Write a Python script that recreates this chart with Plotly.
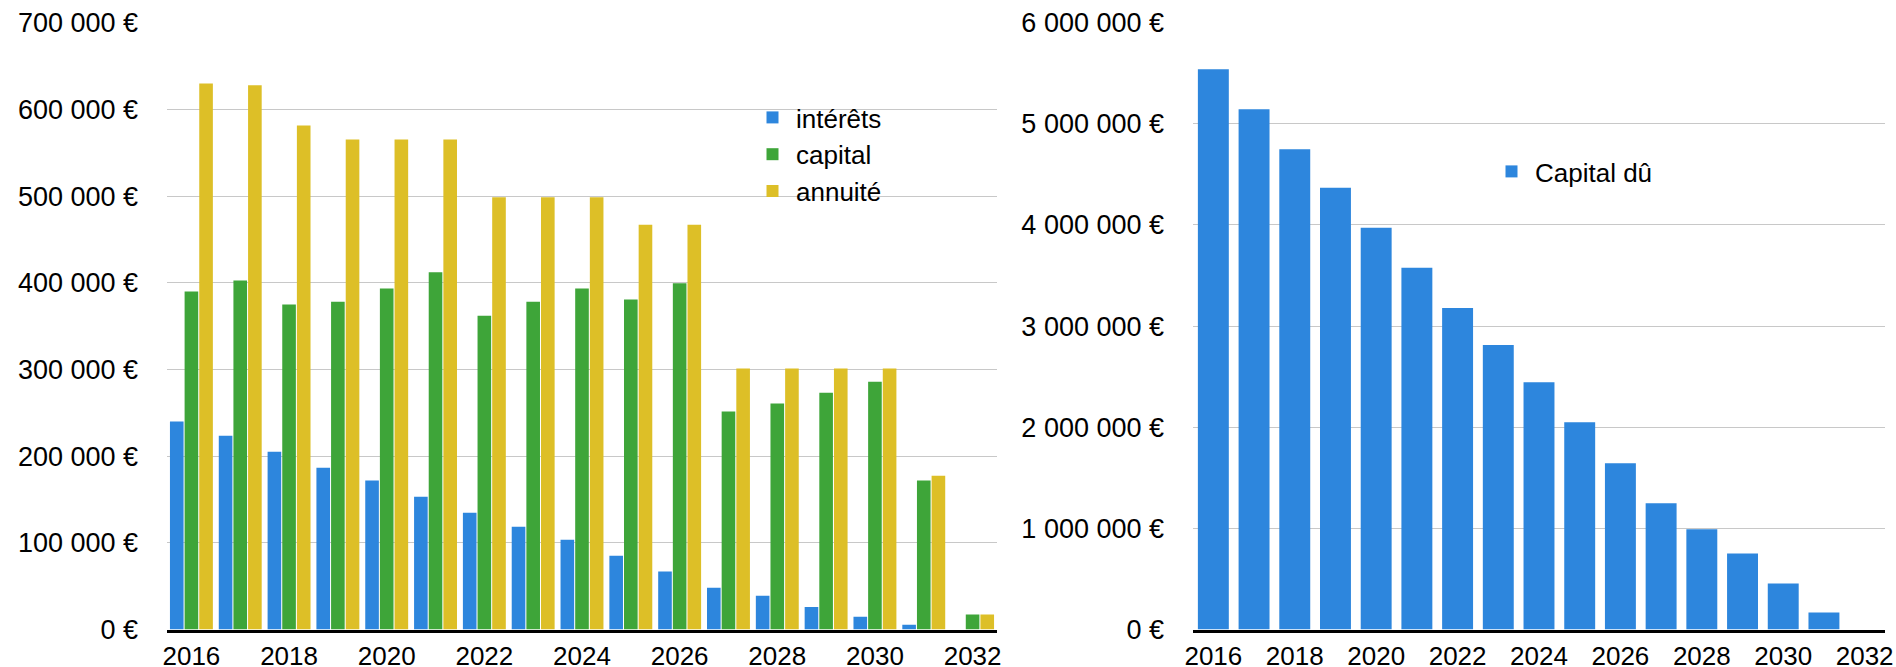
import plotly.graph_objects as go

years = list(range(2016, 2033))
interets = [240000, 223500, 205000, 186600, 172000, 153200, 134600, 118400, 103600,
            85000, 66800, 48100, 38800, 26000, 14700, 5400, 0]
capital = [390000, 402700, 374800, 378200, 393400, 412000, 362000, 378200, 393400,
           380600, 399300, 251500, 260800, 273000, 285900, 171900, 17200]
annuite = [630000, 627700, 581500, 565300, 565300, 565300, 498500, 498500, 498500,
           467000, 467000, 301000, 301000, 301000, 301000, 177300, 17200]
capital_du = [5540000, 5144000, 4748000, 4368000, 3972000, 3576000, 3179000, 2812000,
              2446000, 2049000, 1644000, 1248000, 991000, 751000, 455000, 169000, 0]

x_tick_years = [2016, 2018, 2020, 2022, 2024, 2026, 2028, 2030, 2032]
left_tickvals = [0, 100000, 200000, 300000, 400000, 500000, 600000, 700000]
left_ticktext = ["0 €", "100 000 €", "200 000 €", "300 000 €", "400 000 €",
                 "500 000 €", "600 000 €", "700 000 €"]
right_tickvals = [0, 1000000, 2000000, 3000000, 4000000, 5000000, 6000000]
right_ticktext = ["0 €", "1 000 000 €", "2 000 000 €", "3 000 000 €", "4 000 000 €",
                  "5 000 000 €", "6 000 000 €"]

FONT = "Liberation Sans, Arial, Helvetica, sans-serif"
BLUE = "#2d86dd"
GREEN = "#3ea539"
YELLOW = "#ddbf27"

fig = go.Figure()
fig.add_trace(go.Bar(x=years, y=interets, name="intérêts", marker_color=BLUE,
                     marker_line_width=0, xaxis="x", yaxis="y", legend="legend"))
fig.add_trace(go.Bar(x=years, y=capital, name="capital", marker_color=GREEN,
                     marker_line_width=0, xaxis="x", yaxis="y", legend="legend"))
fig.add_trace(go.Bar(x=years, y=annuite, name="annuité", marker_color=YELLOW,
                     marker_line_width=0, xaxis="x", yaxis="y", legend="legend"))
fig.add_trace(go.Bar(x=years, y=capital_du, name="Capital dû", marker_color=BLUE,
                     marker_line_width=0, width=0.76, xaxis="x2", yaxis="y2",
                     legend="legend2", offsetgroup="r"))

W, H = 1896, 667
ydom = [(667 - 629.5) / H, 1 - 22.7 / H]

axis_common = dict(showgrid=False, showline=True, linecolor="black", linewidth=3,
                   ticks="", tickfont=dict(family=FONT, size=26, color="black"),
                   tickvals=x_tick_years, ticktext=[str(v) for v in x_tick_years],
                   range=[2015.5, 2032.5], ticklabelstandoff=1, fixedrange=True,
                   automargin=False)
yaxis_common = dict(showgrid=True, gridcolor="#c8c8c8", gridwidth=1, zeroline=False,
                    showline=False, ticks="", ticklabelstandoff=28, automargin=False,
                    tickfont=dict(family=FONT, size=27, color="black"), domain=ydom)

fig.update_layout(
    width=W, height=H,
    margin=dict(l=0, r=0, t=0, b=0, autoexpand=False),
    paper_bgcolor="white", plot_bgcolor="white",
    barmode="group", bargap=0.1, bargroupgap=0.07,
    font=dict(family=FONT, size=26, color="black"),
    xaxis=dict(domain=[167 / W, 997 / W], anchor="y", **axis_common),
    yaxis=dict(anchor="x", range=[0, 700000], tickvals=left_tickvals,
               ticktext=left_ticktext, **yaxis_common),
    xaxis2=dict(domain=[1193 / W, 1885 / W], anchor="y2", **axis_common),
    yaxis2=dict(anchor="x2", range=[0, 6000000], tickvals=right_tickvals,
                ticktext=right_ticktext, **yaxis_common),
    legend=dict(x=749 / W, y=1 - 94 / H, xanchor="left", yanchor="top",
                bgcolor="rgba(0,0,0,0)", font=dict(family=FONT, size=26, color="black"),
                tracegroupgap=0, itemwidth=37),
    legend2=dict(x=1488 / W, y=1 - 148 / H, xanchor="left", yanchor="top",
                 bgcolor="rgba(0,0,0,0)", font=dict(family=FONT, size=26, color="black"),
                 itemwidth=37),
    showlegend=True,
)

fig.write_html("out.html")
